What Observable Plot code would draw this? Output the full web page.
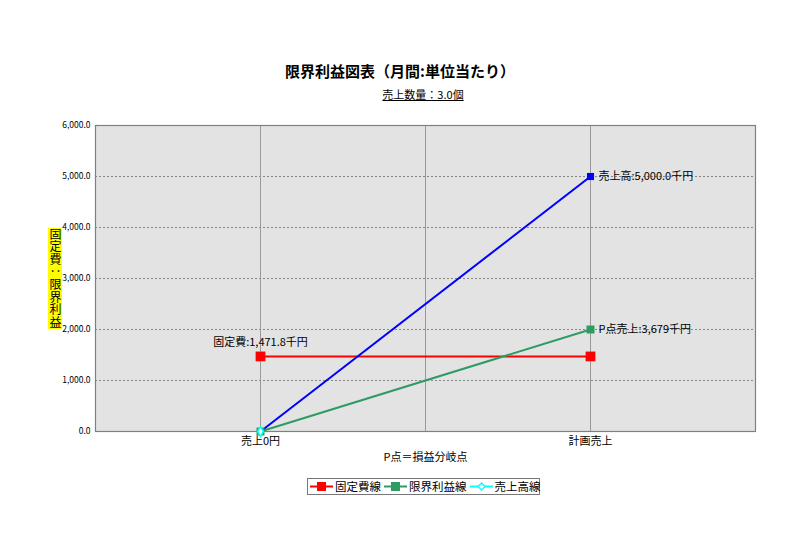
<!DOCTYPE html>
<html><head><meta charset="utf-8">
<script src="https://cdn.jsdelivr.net/npm/d3@7"></script>
<script src="https://cdn.jsdelivr.net/npm/@observablehq/plot@0.6"></script>
<style>
body{margin:0;background:#fff;font-family:"Noto Sans CJK JP","Noto Sans",sans-serif;}
#wrap{position:relative;width:800px;height:549px;}
#title{position:absolute;left:0;width:800px;top:59px;text-align:center;font-size:15px;font-weight:bold;line-height:24px;}
#sub{position:absolute;left:0;width:800px;top:86px;text-align:center;font-size:11px;line-height:16px;}
#sub span{text-decoration:underline;margin-left:46px;}
#chart{position:absolute;left:0;top:105px;}
#ylab{position:absolute;left:48px;top:228px;background:#ffff00;writing-mode:vertical-rl;font-size:12px;line-height:14px;width:14px;height:101px;letter-spacing:0.6px;text-align:center;white-space:nowrap;}
#legend{position:absolute;left:307px;top:478px;width:229px;height:15px;border:1px solid #777;background:#fff;font-size:11.5px;line-height:15px;display:flex;align-items:center;justify-content:flex-start;gap:3px;padding-left:2px;box-sizing:content-box;white-space:nowrap;}
#legend .it{display:flex;align-items:center;white-space:nowrap;}
#legend svg{margin-right:2px;}
</style></head>
<body><div id="wrap">
<div id="title">限界利益図表（月間:単位当たり）</div>
<div id="sub"><span>売上数量：3.0個</span></div>
<div id="chart"></div>
<div id="ylab"></div>
<div id="legend"></div>
</div>
<script>
const xLabels = ["売上0円", "計画売上"];
const xPos = [1, 3];
const xGrid = [1, 2, 3];
const fixedCost = [1471.8, 1471.8];
const marginProfit = [0, 2000];
const salesLine = [0, 5000];
const yTicks = [0, 1000, 2000, 3000, 4000, 5000, 6000];
const xTitle = "P点＝損益分岐点";
const yTitle = "固定費：限界利益";
const seriesNames = ["固定費線", "限界利益線", "売上高線"];
const seriesColors = ["#ff0000", "#2e9b63", "#00ffff"];
const labelFixed = "固定費:1,471.8千円";
const labelSales = "売上高:5,000.0千円";
const labelP = "P点売上:3,679千円";

const pts = arr => xPos.map((x, i) => ({x, y: arr[i]}));
const fmt = d3.format(",.1f");

const chart = Plot.plot({
  width: 800, height: 365,
  marginLeft: 95, marginRight: 45, marginTop: 20, marginBottom: 39,
  x: {domain: [0, 4]},
  y: {domain: [0, 6000]},
  style: {fontFamily: '"Noto Sans CJK JP", sans-serif', color: "#000"},
  marks: [
    Plot.frame({fill: "#e3e3e3", stroke: "none"}),
    Plot.ruleY(yTicks.slice(1, -1), {stroke: "#888", strokeDasharray: "2,2", strokeWidth: 1}),
    Plot.ruleX(xGrid, {stroke: "#999", strokeWidth: 1}),
    Plot.frame({stroke: "#808080", strokeWidth: 1.2}),
    Plot.axisY({ticks: yTicks, tickFormat: fmt, tickSize: 0, tickPadding: 5, fontSize: 8.5, label: null}),
    Plot.axisX({ticks: xPos, tickFormat: d => xLabels[xPos.indexOf(d)], tickSize: 0, tickPadding: 6, fontSize: 11, label: null}),
    Plot.text([xTitle], {frameAnchor: "bottom", dy: 29, text: d => d, fontSize: 11}),
    Plot.line(pts(fixedCost), {x: "x", y: "y", stroke: seriesColors[0], strokeWidth: 2}),
    Plot.line(pts(marginProfit), {x: "x", y: "y", stroke: seriesColors[1], strokeWidth: 2}),
    Plot.line(pts(salesLine), {x: "x", y: "y", stroke: "#0000ff", strokeWidth: 2}),
    Plot.dot(pts(fixedCost), {x: "x", y: "y", symbol: "square", fill: seriesColors[0], r: 5.5}),
    Plot.dot(pts(marginProfit), {x: "x", y: "y", symbol: "square", fill: seriesColors[1], r: 4.5}),
    Plot.dot(pts(salesLine).slice(1), {x: "x", y: "y", symbol: "square", fill: "#0000ff", r: 4}),
    Plot.dot(pts(salesLine).slice(0, 1), {x: "x", y: "y", symbol: "diamond", fill: "#fff", stroke: seriesColors[2], strokeWidth: 1.5, r: 3}),
    Plot.text(pts(fixedCost).slice(0, 1), {x: "x", y: "y", text: () => labelFixed, dy: -14, fontSize: 11}),
    Plot.text(pts(salesLine).slice(1), {x: "x", y: "y", text: () => labelSales, textAnchor: "start", dx: 8, fontSize: 11}),
    Plot.text(pts(marginProfit).slice(1), {x: "x", y: "y", text: () => labelP, textAnchor: "start", dx: 8, fontSize: 11})
  ]
});
document.getElementById("chart").appendChild(chart);

document.getElementById("ylab").textContent = yTitle;

const leg = document.getElementById("legend");
seriesNames.forEach((n, i) => {
  const it = document.createElement("div");
  it.className = "it";
  const c = seriesColors[i];
  const marker = i < 2
    ? `<rect x="7" y="3" width="9" height="9" fill="${c}"/>`
    : `<path d="M11.5,4 L15,7.5 L11.5,11 L8,7.5 Z" fill="#fff" stroke="${c}" stroke-width="1.3"/>`;
  it.innerHTML = `<svg width="23" height="15"><line x1="0" x2="23" y1="7.5" y2="7.5" stroke="${c}" stroke-width="2"/>${marker}</svg><span>${n}</span>`;
  leg.appendChild(it);
});
</script>
</body></html>
